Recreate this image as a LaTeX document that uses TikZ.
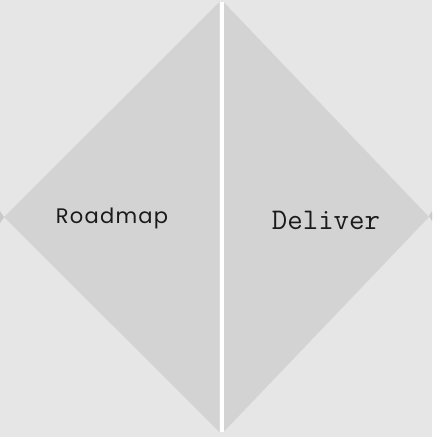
\documentclass[tikz,border=0pt]{standalone}
\usepackage{fontspec}
\newfontfamily\roadfont[LetterSpace=6]{Poppins}
\usepackage{tikz}
\usetikzlibrary{positioning}
\definecolor{bgGray}{HTML}{E6E6E6}
\definecolor{halfGray}{HTML}{D3D3D3}
\definecolor{tipGray}{HTML}{C9C9C9}
\definecolor{inkGray}{HTML}{1A1A1A}

\begin{document}
\begin{tikzpicture}[x=1pt,y=-1pt,
	half/.style={fill=halfGray},
	tip/.style={fill=tipGray},
	label/.style={text=inkGray, inner sep=0pt}]
	
	\fill[bgGray] (0,0) rectangle (432,437);
	\useasboundingbox (0,0) rectangle (432,437);
	
	% the two halves
	\fill[half] (4,217) -- (219.5,2) -- (219.5,432) -- cycle;
	\fill[half] (223.5,2) -- (429,217) -- (223.5,432) -- cycle;
	\fill[white] (219.5,2) rectangle (223.5,432);
	
	% small tips at the edges
	\fill[tip] (0,211) -- (4,217) -- (0,223) -- cycle;
	\fill[tip] (432,211) -- (429,216) -- (432,221) -- cycle;
	
	\node[label] (roadmap) at (112,218) {\roadfont\fontsize{21}{24}\selectfont Roadmap};
	\node[label] (deliver) at (326,220) {\ttfamily\fontsize{30}{34}\selectfont Deliver};
	
\end{tikzpicture}
\end{document}
